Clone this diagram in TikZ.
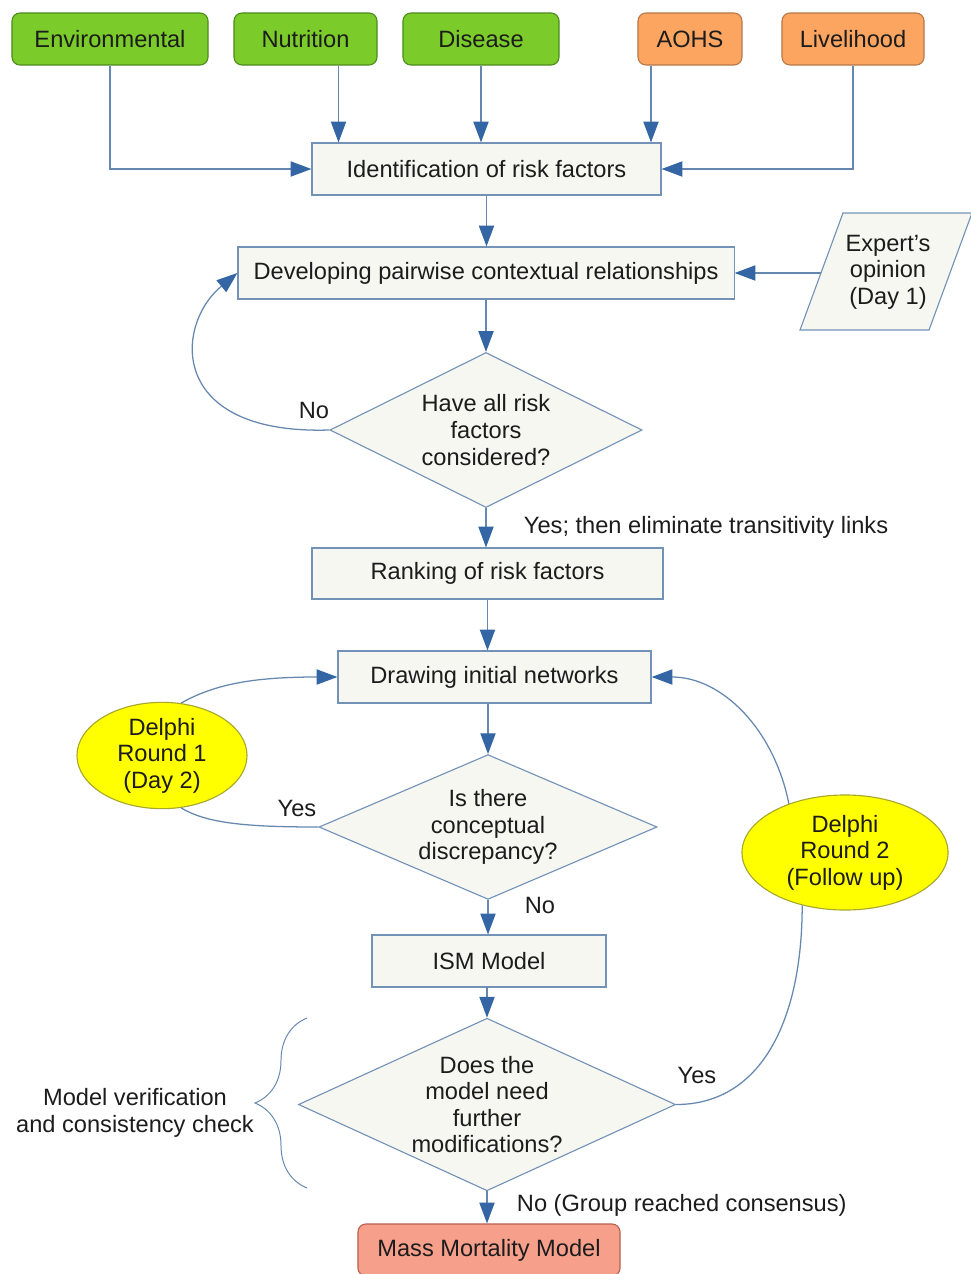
\documentclass[tikz,border=0pt]{standalone}
\usepackage{fontspec}
\setmainfont{Liberation Sans}
\usetikzlibrary{shapes.geometric,arrows.meta,decorations.pathreplacing}
\definecolor{txt}{HTML}{1C1C1C}
\definecolor{grfill}{HTML}{7BCB2A}
\definecolor{grline}{HTML}{4E8C1F}
\definecolor{orfill}{HTML}{FBA560}
\definecolor{orline}{HTML}{B8784A}
\definecolor{boxfill}{HTML}{F7F7F1}
\definecolor{boxline}{HTML}{7392B8}
\definecolor{yefill}{HTML}{FFFF00}
\definecolor{yeline}{HTML}{A8A830}
\definecolor{msfill}{HTML}{F6A08C}
\definecolor{msline}{HTML}{B8604E}
\definecolor{conn}{HTML}{6688B0}
\definecolor{tipc}{HTML}{3465A4}

\begin{document}
\begin{tikzpicture}[x=0.025cm,y=-0.025cm,
    every node/.style={font=\fontsize{16.8}{18.9}\selectfont,text=txt,align=center},
    src/.style={draw=grline,fill=grfill,rounded corners=0.2cm,line width=0.8pt,minimum height=1.3cm},
    srco/.style={src,draw=orline,fill=orfill},
    proc/.style={draw=boxline,fill=boxfill,line width=0.8pt,minimum height=1.3cm},
    dec/.style={diamond,draw=boxline,fill=boxfill,line width=0.8pt,inner sep=0pt,aspect=2},
    delphi/.style={ellipse,draw=yeline,fill=yefill,line width=0.8pt,inner sep=0pt},
    conline/.style={draw=conn,line width=0.9pt},
    arr/.style={conline,-{Triangle[length=0.52cm,width=0.38cm,color=tipc]}}]
  \useasboundingbox (0,0) rectangle (971,1274);

  \node[src,minimum width=4.9cm](env)at(110,39){Environmental};
  \node[src,minimum width=3.575cm](nut)at(305.5,39){Nutrition};
  \node[src,minimum width=3.9cm](dis)at(481,39){Disease};
  \node[srco,minimum width=2.6cm](aohs)at(690,39){AOHS};
  \node[srco,minimum width=3.55cm](live)at(853,39){Livelihood};

  \node[proc,minimum width=8.725cm](ident)at(486.5,169){Identification of risk factors};
  \node[proc,minimum width=12.4cm](dev)at(486,273){Developing pairwise contextual relationships};
  \draw[proc] (843,213) -- (972,213) -- (929,330) -- (800,330) -- cycle;
  \node(exp)at(888,272){Expert’s\\opinion\\(Day 1)};
  \coordinate(expL)at(821,273);

  \node[dec,minimum width=7.8cm,minimum height=3.875cm](d1)at(486,430){Have all risk\\factors\\considered?};
  \node[proc,minimum width=8.775cm,minimum height=1.275cm](rank)at(487.5,573.5){Ranking of risk factors};
  \node[proc,minimum width=7.825cm](net)at(494.5,677){Drawing initial networks};
  \node[dec,minimum width=8.45cm,minimum height=3.5cm](d2)at(488,827){Is there\\conceptual\\discrepancy?};
  \node[proc,minimum width=5.85cm](ism)at(489,961){ISM Model};
  \node[dec,minimum width=9.425cm,minimum height=3.875cm](d3)at(487,1104.5){Does the\\model need\\further\\modifications?};
  \node[src,draw=msline,fill=msfill,minimum width=6.55cm](mass)at(489,1250){Mass Mortality Model};

  \node[delphi,minimum width=4.25cm,minimum height=2.625cm](del1)at(162,755.5){Delphi\\Round 1\\(Day 2)};
  \node[delphi,minimum width=5.15cm,minimum height=2.875cm](del2)at(845,852.5){Delphi\\Round 2\\(Follow up)};

  \draw[arr] (env.south) |- (ident.west);
  \draw[arr] ([xshift=0.825cm]nut.south) -- ([xshift=0.825cm]nut.south |- ident.north);
  \draw[arr] (dis.south) -- (dis.south |- ident.north);
  \draw[arr] ([xshift=-0.975cm]aohs.south) -- ([xshift=-0.975cm]aohs.south |- ident.north);
  \draw[arr] (live.south) |- (ident.east);
  \draw[arr] (ident.south) -- (ident.south |- dev.north);
  \draw[arr] (expL) -- (dev.east);
  \draw[arr] (dev.south) -- (d1.north);
  \draw[arr] (d1.west) .. controls +(-162,5) and +(-63,52) .. (dev.west);
  \draw[arr] (d1.south) -- (d1.south |- rank.north);
  \draw[arr] (rank.south) -- (rank.south |- net.north);
  \draw[arr] (d2.north |- net.south) -- (d2.north);
  \draw[conline] (d2.west) .. controls +(-75,0) and +(25,15) .. (del1.-70);
  \draw[arr] (del1.70) .. controls +(35,-20) and +(-80,0) .. (net.west);
  \draw[arr] (d2.south) -- (d2.south |- ism.north);
  \draw[arr] (ism.south) -- (ism.south -| d3.north) -- (d3.north);
  \draw[conline] (d3.east) .. controls +(85,0) and +(0,115) .. (del2.-129);
  \draw[arr] (del2.139) .. controls +(-15,-75) and +(70,0) .. (net.east);
  \draw[arr] (d3.south) -- (d3.south |- mass.north);

  \node(no1)at(314,410){No};
  \node[anchor=west](yes1)at(519,527){Yes; then eliminate transitivity links};
  \node(yes2)at(297,808){Yes};
  \node(no2)at(540,905){No};
  \node(yes3)at(697,1075){Yes};
  \node[anchor=west](no3)at(512,1205){No (Group reached consensus)};

  \coordinate(brB)at(307,1188);
  \coordinate(brT)at(307,1018);
  \draw[conline,line width=0.7pt,decorate,decoration={brace,amplitude=1.3cm}] (brB) -- (brT);
  \node(verif)at(135,1113){Model verification\\and consistency check};
\end{tikzpicture}
\end{document}
